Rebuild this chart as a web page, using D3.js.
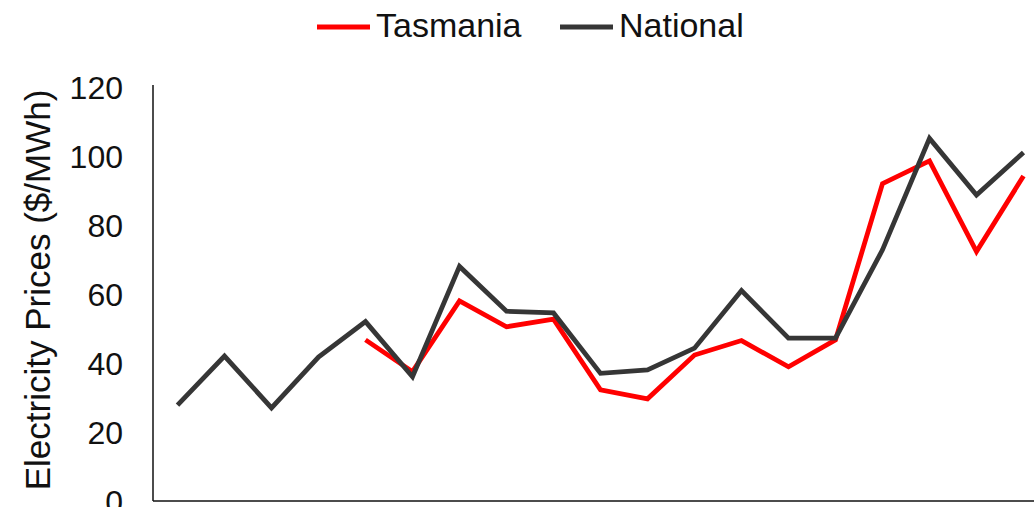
<!DOCTYPE html>
<html>
<head>
<meta charset="utf-8">
<script src="https://cdn.jsdelivr.net/npm/d3@7"></script>
<style>
  body { margin: 0; background: #fff; }
  svg { display: block; font-family: "Liberation Sans", Arial, sans-serif; }
</style>
</head>
<body>
<div id="chart"></div>
<script>
// periods along the x axis (labels fall below the visible frame)
const periods = ["2001","2002","2003","2004","2005","2006","2007","2008","2009","2010",
                 "2011","2012","2013","2014","2015","2016","2017","2018","2019"];
// Tasmania only has values from the 5th period on
const tasmania = [null, null, null, null, 46.7, 37.5, 58, 50.5, 52.7, 32.2,
                  29.6, 42.3, 46.5, 38.9, 46.7, 92, 98.6, 72.3, 94.2];
const national = [27.8, 42, 27, 41.7, 52, 36, 68, 55, 54.5, 37,
                  38, 44.3, 61, 47.2, 47.2, 72.8, 105.1, 88.7, 101];
const yTicks = [0, 20, 40, 60, 80, 100, 120];
const seriesNames = ["Tasmania", "National"];
const seriesColors = ["#ff0000", "#363636"];

const W = 1034, H = 507;
const svg = d3.select("#chart").append("svg")
    .attr("width", W)
    .attr("height", H);

const x = d3.scalePoint()
    .domain(periods)
    .range([154, 1047])
    .padding(0.5);

const y = d3.scaleLinear()
    .domain([0, 120])
    .range([501, 87]);

// y axis: no tick marks, labels right-aligned
const yAxis = svg.append("g")
    .attr("transform", "translate(153,0)")
    .call(d3.axisLeft(y).tickValues(yTicks).tickSize(0).tickPadding(30));
yAxis.select(".domain")
    .attr("d", "M0,85V501")
    .attr("stroke", "#111")
    .attr("stroke-width", 1.5);
yAxis.selectAll("text")
    .attr("font-size", 32)
    .attr("font-family", "Liberation Sans, Arial, sans-serif")
    .attr("fill", "#111")
    .attr("dy", "0.36em");

// x axis line (labels are cropped away in the reference)
svg.append("line")
    .attr("x1", 153).attr("x2", W)
    .attr("y1", y(0)).attr("y2", y(0))
    .attr("stroke", "#111")
    .attr("stroke-width", 1.5);

// y axis title
svg.append("text")
    .attr("transform", "translate(50,290) rotate(-90)")
    .attr("text-anchor", "middle")
    .attr("font-size", 35)
    .attr("fill", "#111")
    .text("Electricity Prices ($/MWh)");

const line = d3.line()
    .defined(d => d != null)
    .x((d, i) => x(periods[i]))
    .y(d => y(d));

// national drawn last so it sits over the red line where they cross
[tasmania, national].forEach((vals, k) => {
    svg.append("path")
        .datum(vals)
        .attr("fill", "none")
        .attr("stroke", seriesColors[k])
        .attr("stroke-width", 4.8)
        .attr("stroke-linejoin", "miter")
        .attr("d", line);
});

// legend
const legend = svg.append("g");
const legendX = [317, 560];
seriesNames.forEach((name, k) => {
    legend.append("line")
        .attr("x1", legendX[k]).attr("x2", legendX[k] + 53)
        .attr("y1", 27).attr("y2", 27)
        .attr("stroke", seriesColors[k])
        .attr("stroke-width", 5);
    legend.append("text")
        .attr("x", legendX[k] + 59)
        .attr("y", 37)
        .attr("font-size", 34)
        .attr("fill", "#111")
        .text(name);
});
</script>
</body>
</html>
